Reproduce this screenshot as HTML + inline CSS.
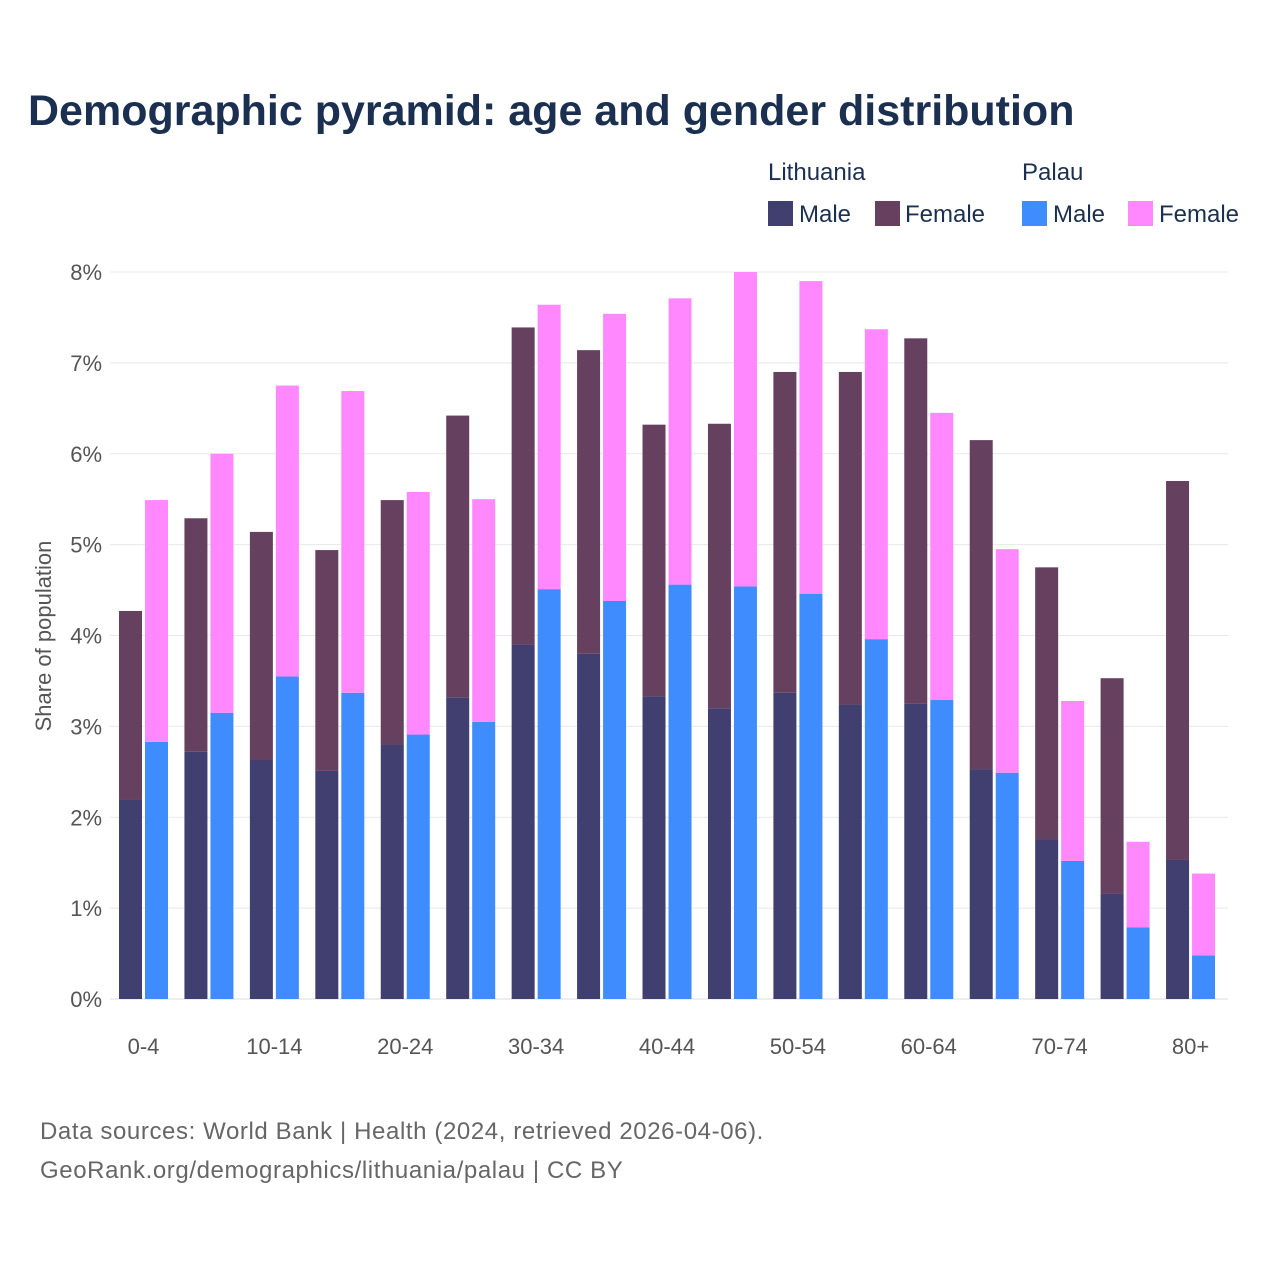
<!DOCTYPE html>
<html><head><meta charset="utf-8">
<style>
html,body{margin:0;padding:0;background:#fff;}
body{width:1280px;height:1280px;overflow:hidden;font-family:"Liberation Sans",sans-serif;}
</style></head>
<body>
<svg width="1280" height="1280" xmlns="http://www.w3.org/2000/svg" id="chart">
<text x="28" y="125" font-size="43" font-weight="bold" fill="#1b3050">Demographic pyramid: age and gender distribution</text>
<g font-size="24" fill="#1b3050">
<text x="768" y="180">Lithuania</text>
<text x="1022" y="180">Palau</text>
<rect x="768" y="201" width="25" height="25" fill="#413f6f"/>
<text x="799" y="222">Male</text>
<rect x="875" y="201" width="25" height="25" fill="#65405f"/>
<text x="905" y="222">Female</text>
<rect x="1022" y="201" width="25" height="25" fill="#3f8cff"/>
<text x="1053" y="222">Male</text>
<rect x="1128" y="201" width="25" height="25" fill="#ff88ff"/>
<text x="1159" y="222">Female</text>
</g>
<g id="grid"></g>
<g id="bars"></g>
<g id="xlabels"></g>
<text transform="translate(51,636) rotate(-90)" text-anchor="middle" font-size="22" fill="#555">Share of population</text>
<text x="40" y="1139" font-size="24" letter-spacing="0.6" fill="#666">Data sources: World Bank | Health (2024, retrieved 2026-04-06).</text>
<text x="40" y="1178" font-size="24" letter-spacing="0.6" fill="#666">GeoRank.org/demographics/lithuania/palau | CC BY</text>
</svg>
<script>
const categories=["0-4","5-9","10-14","15-19","20-24","25-29","30-34","35-39","40-44","45-49","50-54","55-59","60-64","65-69","70-74","75-79","80+"];
const ltMale=[2.19,2.72,2.63,2.51,2.80,3.32,3.90,3.80,3.33,3.20,3.37,3.24,3.25,2.53,1.76,1.16,1.53];
const ltTotal=[4.27,5.29,5.14,4.94,5.49,6.42,7.39,7.14,6.32,6.33,6.90,6.90,7.27,6.15,4.75,3.53,5.70];
const pwMale=[2.83,3.15,3.55,3.37,2.91,3.05,4.51,4.38,4.56,4.54,4.46,3.96,3.29,2.49,1.52,0.79,0.48];
const pwTotal=[5.49,6.00,6.75,6.69,5.58,5.50,7.64,7.54,7.71,8.00,7.90,7.37,6.45,4.95,3.28,1.73,1.38];
const yTicks=[0,1,2,3,4,5,6,7,8];
const ltFemale=ltTotal.map((t,i)=>+(t-ltMale[i]).toFixed(2));
const pwFemale=pwTotal.map((t,i)=>+(t-pwMale[i]).toFixed(2));

const NS="http://www.w3.org/2000/svg";
const y0=999,pxPer=90.875;
function y(v){return y0-v*pxPer;}
function xc(i){return 143.5+i*65.44;}
const bw=23,gap=3;
function mk(tag,attrs,parent){const e=document.createElementNS(NS,tag);for(const k in attrs)e.setAttribute(k,attrs[k]);parent.appendChild(e);return e;}
const grid=document.getElementById('grid'),bars=document.getElementById('bars'),xl=document.getElementById('xlabels');
yTicks.forEach(t=>{
  const l=mk('line',{x1:110,x2:1228,y1:y(t),y2:y(t),stroke:t===0?'#ddd':'#e8e8e8','stroke-width':1},grid);
  
  
  const tx=mk('text',{x:102,y:y(t)+8,'text-anchor':'end','font-size':22,fill:'#555'},grid);
  tx.textContent=t+'%';
  
  
});
function bar(x,v0,v1,color,name){
  const r=mk('rect',{x:x,y:y(v1),width:bw,height:Math.max(0,y(v0)-y(v1)),fill:color},bars);
  
  
}
categories.forEach((c,i)=>{
  const lx=xc(i)-gap/2-bw, px=xc(i)+gap/2;
  bar(lx,0,ltMale[i],'#413f6f','bar-lithuania-male-'+c);
  bar(lx,ltMale[i],ltMale[i]+ltFemale[i],'#65405f','bar-lithuania-female-'+c);
  bar(px,0,pwMale[i],'#3f8cff','bar-palau-male-'+c);
  bar(px,pwMale[i],pwMale[i]+pwFemale[i],'#ff88ff','bar-palau-female-'+c);
  if(i%2===0){
    const t=mk('text',{x:xc(i),y:1054,'text-anchor':'middle','font-size':22,fill:'#555'},xl);
    t.textContent=c;
    
    
  }
});
</script>
</body></html>
